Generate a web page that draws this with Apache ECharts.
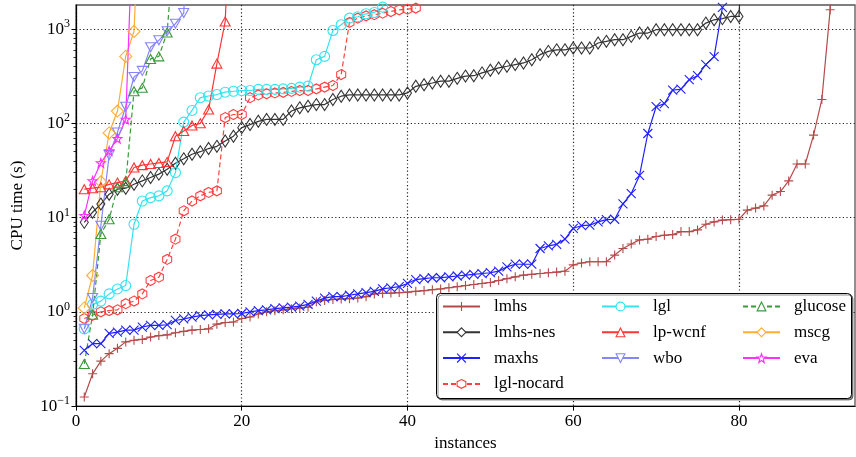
<!DOCTYPE html>
<html><head><meta charset="utf-8">
<script src="https://cdn.jsdelivr.net/npm/echarts@6/dist/echarts.min.js"></script>
<style>html,body{margin:0;padding:0;background:#fff}#c{width:856px;height:457px}</style>
</head><body><div id="c"></div>
<script>
// ---- data (instance index starts at 1; 100000 = timed out, beyond axis) ----
const lmhs = [0.125,0.22,0.30,0.36,0.41,0.48,0.50,0.51,0.54,0.56,0.57,0.60,0.62,0.64,0.65,0.66,0.74,0.77,0.78,0.85,
  0.88,0.95,1.0,1.03,1.05,1.08,1.1,1.12,1.28,1.32,1.35,1.37,1.38,1.4,1.45,1.55,1.57,1.58,1.6,1.62,
  1.65,1.68,1.72,1.75,1.8,1.85,1.9,1.95,2.0,2.05,2.15,2.25,2.35,2.45,2.5,2.55,2.6,2.64,2.7,3.15,
  3.3,3.4,3.4,3.4,4.0,4.7,5.25,5.8,5.9,6.3,6.5,6.6,7.1,7.1,7.4,8.5,9.0,9.4,9.5,9.6,
  12,12.6,13.3,17.3,18.9,24.5,37,37,75,179,1600,100000];
const lmhsNes = [8.9,11.4,13.9,17.7,20,20.5,22.6,24.5,26.6,28.9,32.6,37.7,42,47,50,54,57,65,73,90,
  97,105,110,110,110,135,146,152,158,158,179,194,200,200,200,200,200,200,200,210,
  247,257,268,280,280,300,317,320,343,365,387,403,420,437,473,535,580,602,602,630,
  630,630,711,741,771,771,836,907,907,984,984,984,984,984,984,1157,1254,1290,1360,1360,100000];
const maxhs = [0.39,0.46,0.46,0.59,0.61,0.64,0.64,0.69,0.72,0.72,0.73,0.81,0.84,0.88,0.91,0.93,0.94,0.95,0.95,0.96,
  1.0,1.03,1.05,1.08,1.1,1.12,1.15,1.2,1.3,1.4,1.45,1.45,1.5,1.55,1.6,1.65,1.75,1.8,1.85,2.0,
  2.2,2.25,2.3,2.3,2.35,2.4,2.45,2.5,2.55,2.6,2.7,3.0,3.2,3.2,3.2,4.7,5.0,5.2,5.9,7.7,
  8.2,8.3,9.0,9.5,9.6,14,18,28,78,150,162,225,230,290,320,420,510,1700];
const lglNocard = [0.85,0.92,1.0,1.03,1.05,1.22,1.3,1.55,2.15,2.33,3.6,5.9,11.8,15,17,18.5,19.2,115,124,124,
  187,200,206,210,213,218,223,223,232,242,252,329,1175,1306,1380,1420,1475,1535,1600,1626,1667];
const lgl = [0.66,1.2,1.3,1.55,1.75,1.9,8.5,15,16.3,17,19.2,30,103,137,187,195,202,214,219,223,
  223,229,229,229,232,235,242,248,473,513,966,1110,1306,1350,1452,1500,1710,100000];
const lpWcnf = [20,20.5,21,22.5,23.5,24.5,34,36,37,38,39,73,83,95,100,140,430,1200,100000];
const wbo = [0.66,1.4,8.2,46,80,150,310,360,640,760,950,1140,1480,100000];
const glucose = [0.28,0.93,6.7,9.6,21,23.4,219,238,482,513,920,13000];
const mscg = [1.1,2.43,24,79,135,513,944,100000];
const eva = [10.5,24.5,38,51,69,110,30000];

const seriesNames = ['lmhs','lmhs-nes','maxhs','lgl-nocard','lgl','lp-wcnf','wbo','glucose','mscg','eva'];
const xTicks = [0,20,40,60,80];
const yTicks = [0.1,1,10,100,1000];
const yMinorTicks = [];
for (let e = -1; e <= 3; e++) for (let m = 2; m <= 9; m++) { const v = m * Math.pow(10, e); if (v <= 1800) yMinorTicks.push(+v.toPrecision(3)); }

// ---- styling ----
const FONT = 'Liberation Serif';
const SYM = {
  plus: 'path://M5,0L5,10M0,5L10,5',
  cross: 'path://M0,0L10,10M10,0L0,10',
  hex: 'path://M5,0L9.33,2.5L9.33,7.5L5,10L0.67,7.5L0.67,2.5Z',
  star: 'path://M5,0L6.18,3.38L9.76,3.45L6.9,5.62L7.94,9.05L5,7L2.06,9.05L3.1,5.62L0.24,3.45L3.82,3.38Z'
};
function mk(name, values, color, symbol, size, dashed, rotate) {
  return {
    name, type: 'line', data: values.map((v, i) => [i + 1, v]),
    symbol, symbolSize: size, symbolRotate: rotate || 0,
    lineStyle: { color, width: 1.2, type: dashed ? [5, 3] : 'solid' },
    itemStyle: { color: 'rgba(255,255,255,0)', borderColor: color, borderWidth: 1.1 },
    emphasis: { disabled: true }, clip: true, animation: false
  };
}
const series = [
  mk('lmhs', lmhs, '#b54a4a', SYM.plus, 9),
  mk('lmhs-nes', lmhsNes, '#333333', 'diamond', [8, 12]),
  mk('maxhs', maxhs, '#1f1fff', SYM.cross, 9),
  mk('lgl-nocard', lglNocard, '#ff4040', SYM.hex, [9, 10], true),
  mk('lgl', lgl, '#33e4f0', 'circle', 10),
  mk('lp-wcnf', lpWcnf, '#ff3535', 'triangle', [10, 9]),
  mk('wbo', wbo, '#8585ff', 'triangle', [10, 9], false, 180),
  mk('glucose', glucose, '#3a9a3a', 'triangle', [10, 9], true),
  mk('mscg', mscg, '#ffad33', 'diamond', [12, 12]),
  mk('eva', eva, '#ff30ff', SYM.star, 9)
];
const legendBase = {
  orient: 'vertical', padding: 0, itemWidth: 37, itemHeight: 11, itemGap: 8.8,
  selectedMode: false, z: 5,
  itemStyle: { color: '#ffffff', borderColor: 'inherit', borderWidth: 1.1 },
  textStyle: { fontFamily: FONT, fontSize: 17, color: '#000', padding: [0, 0, 0, 9] }
};
const option = {
  animation: false,
  grid: { left: 76, top: 5, width: 779, height: 402.5, show: true, borderColor: '#555', borderWidth: 1.3, containLabel: false },
  xAxis: {
    type: 'value', min: 0, max: 94, interval: 20,
    name: 'instances', nameLocation: 'middle', nameGap: 24,
    nameTextStyle: { fontFamily: FONT, fontSize: 17, color: '#000' },
    axisLine: { lineStyle: { color: '#000', width: 1.2 } },
    axisTick: { length: 4.5, customValues: xTicks, lineStyle: { color: '#000' } },
    axisLabel: { customValues: xTicks, fontFamily: FONT, fontSize: 17, color: '#000', margin: 7 },
    splitLine: { show: true, lineStyle: { color: '#222', type: [1.2, 2.4], width: 1.2 } }
  },
  yAxis: [{
    type: 'log', min: 0.1, max: 1800, logBase: 10,
    name: 'CPU time (s)', nameLocation: 'middle', nameGap: 50,
    nameTextStyle: { fontFamily: FONT, fontSize: 17, color: '#000' },
    axisLine: { show: true, lineStyle: { color: '#000', width: 1.2 } },
    axisTick: { length: 4.5, customValues: yTicks, lineStyle: { color: '#000' } },
    axisLabel: {
      customValues: yTicks, margin: 6, color: '#000',
      formatter: v => { const e = Math.round(Math.log10(v)); return '{b|10}{s|' + (e < 0 ? '\u2212' + (-e) : e) + '}'; },
      rich: {
        b: { fontFamily: FONT, fontSize: 17, color: '#000', lineHeight: 22 },
        s: { fontFamily: FONT, fontSize: 12, color: '#000', lineHeight: 14, verticalAlign: 'top' }
      }
    },
    splitLine: { show: true, lineStyle: { color: '#222', type: [1.2, 2.4], width: 1.2 } }
  }, {
    type: 'log', min: 0.1, max: 1800, logBase: 10, position: 'left',
    axisLine: { show: false }, axisLabel: { show: false }, splitLine: { show: false },
    axisTick: { show: true, length: 2.5, customValues: yMinorTicks, lineStyle: { color: '#000', width: 0.8 } }
  }],
  graphic: [{
    type: 'rect', left: 436, top: 293, z: 4,
    shape: { width: 415, height: 105, r: 4 },
    style: { fill: '#fff', stroke: '#000', lineWidth: 1, shadowColor: 'rgba(0,0,0,0.45)', shadowOffsetX: 1.5, shadowOffsetY: 1.5, shadowBlur: 0 }
  }],
  legend: [
    Object.assign({}, legendBase, { left: 442, top: 298, data: seriesNames.slice(0, 4) }),
    Object.assign({}, legendBase, { left: 601, top: 298, data: seriesNames.slice(4, 7) }),
    Object.assign({}, legendBase, { left: 742, top: 298, data: seriesNames.slice(7, 10) })
  ],
  series
};
const chart = echarts.init(document.getElementById('c'), null, { renderer: 'canvas' });
chart.setOption(option);
</script></body></html>
